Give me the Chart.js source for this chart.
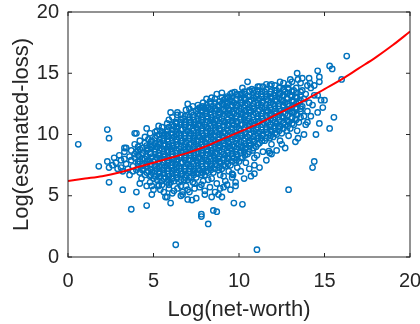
<!DOCTYPE html>
<html>
<head>
<meta charset="utf-8">
<script src="https://cdn.jsdelivr.net/npm/chart.js@4.4.1/dist/chart.umd.min.js"></script>
<style>
  html, body { margin: 0; padding: 0; background: #fff; }
  #wrap { width: 420px; height: 324px; }
</style>
</head>
<body>
<div id="wrap"><canvas id="scatterChart"></canvas></div>
<script>
// Axis ticks
const xTicks = [0, 5, 10, 15, 20];
const yTicks = [0, 5, 10, 15, 20];

// Fitted curve (red)
const fitX = [0, 1, 2, 3, 4, 5, 6, 7, 8, 9, 10, 11, 12, 13, 14, 15, 16, 17, 18, 19, 20];
const fitY = [6.2, 6.4, 6.6, 6.9, 7.3, 7.7, 8.1, 8.5, 9.0, 9.6, 10.2, 10.8, 11.5, 12.2, 12.9, 13.7, 14.5, 15.4, 16.3, 17.3, 18.4];

// Dense core of the cloud [net-worth, estimated-loss]
const coreCloud = [
  [3.4,7.6],[3.6,8.2],[3.5,7.2],[3.7,8.7],[3.3,8.0],[3.8,7.4],[3.7,7.9],[3.9,8.4],[3.8,7.0],
  [4.0,7.1],[4.1,7.6],[3.9,8.1],[4.0,8.6],[4.1,9.0],[4.2,6.9],[4.3,7.4],[4.2,7.8],[4.3,8.3],[4.2,8.8],
  [4.5,6.7],[4.4,7.2],[4.6,7.6],[4.5,8.0],[4.4,8.5],[4.6,8.9],[4.5,9.3],
  [4.8,6.6],[4.7,7.0],[4.8,7.5],[4.7,7.9],[4.8,8.4],[4.7,8.8],[4.8,9.2],[4.7,9.6],
  [5.0,6.4],[4.9,6.9],[5.1,7.3],[5.0,7.8],[4.9,8.2],[5.1,8.6],[5.0,9.1],[4.9,9.5],
  [5.2,6.3],[5.3,6.8],[5.2,7.2],[5.3,7.7],[5.2,8.1],[5.3,8.5],[5.2,9.0],[5.3,9.4],[5.2,9.9],
  [5.5,6.2],[5.4,6.6],[5.6,7.1],[5.5,7.5],[5.4,8.0],[5.6,8.4],[5.5,8.8],[5.4,9.3],[5.6,9.7],[5.5,10.1],
  [5.8,6.1],[5.7,6.5],[5.8,7.0],[5.7,7.4],[5.8,7.9],[5.7,8.3],[5.8,8.7],[5.7,9.2],[5.8,9.6],[5.7,10.0],[5.8,10.4],
  [6.0,6.1],[5.9,6.6],[6.1,7.0],[6.0,7.5],[5.9,7.9],[6.1,8.4],[6.0,8.8],[5.9,9.2],[6.1,9.7],[6.0,10.1],[5.9,10.6],
  [6.2,6.2],[6.3,6.7],[6.2,7.1],[6.3,7.6],[6.2,8.0],[6.3,8.5],[6.2,8.9],[6.3,9.4],[6.2,9.8],[6.3,10.3],[6.2,10.7],[6.3,11.0],
  [6.5,6.1],[6.4,6.5],[6.6,7.0],[6.5,7.4],[6.4,7.9],[6.6,8.3],[6.5,8.8],[6.4,9.2],[6.6,9.7],[6.5,10.1],[6.4,10.6],[6.6,11.0],
  [6.8,6.3],[6.7,6.8],[6.8,7.2],[6.7,7.7],[6.8,8.1],[6.7,8.6],[6.8,9.0],[6.7,9.5],[6.8,9.9],[6.7,10.4],[6.8,10.8],[6.7,11.3],
  [7.0,6.3],[6.9,6.7],[7.1,7.2],[7.0,7.6],[6.9,8.1],[7.1,8.5],[7.0,9.0],[6.9,9.4],[7.1,9.9],[7.0,10.3],[6.9,10.8],[7.1,11.2],[7.0,11.6],
  [7.2,6.5],[7.3,6.9],[7.2,7.4],[7.3,7.8],[7.2,8.3],[7.3,8.7],[7.2,9.2],[7.3,9.6],[7.2,10.1],[7.3,10.5],[7.2,11.0],[7.3,11.4],[7.2,11.8],
  [7.5,6.5],[7.4,7.0],[7.6,7.4],[7.5,7.9],[7.4,8.3],[7.6,8.8],[7.5,9.2],[7.4,9.7],[7.6,10.1],[7.5,10.6],[7.4,11.0],[7.6,11.5],[7.5,11.9],
  [7.8,6.7],[7.7,7.1],[7.8,7.6],[7.7,8.0],[7.8,8.5],[7.7,8.9],[7.8,9.4],[7.7,9.8],[7.8,10.3],[7.7,10.7],[7.8,11.2],[7.7,11.6],[7.8,12.0],
  [8.0,6.7],[7.9,7.2],[8.1,7.6],[8.0,8.1],[7.9,8.5],[8.1,9.0],[8.0,9.4],[7.9,9.9],[8.1,10.3],[8.0,10.8],[7.9,11.2],[8.1,11.7],[8.0,12.1],
  [8.2,6.9],[8.3,7.3],[8.2,7.8],[8.3,8.2],[8.2,8.7],[8.3,9.1],[8.2,9.6],[8.3,10.0],[8.2,10.5],[8.3,10.9],[8.2,11.4],[8.3,11.8],[8.2,12.2],
  [8.5,6.9],[8.4,7.4],[8.6,7.8],[8.5,8.3],[8.4,8.7],[8.6,9.2],[8.5,9.6],[8.4,10.1],[8.6,10.5],[8.5,11.0],[8.4,11.4],[8.6,11.9],[8.5,12.3],
  [8.8,7.1],[8.7,7.5],[8.8,8.0],[8.7,8.4],[8.8,8.9],[8.7,9.3],[8.8,9.8],[8.7,10.2],[8.8,10.7],[8.7,11.1],[8.8,11.6],[8.7,12.0],[8.8,12.4],
  [9.0,7.2],[8.9,7.7],[9.1,8.1],[9.0,8.6],[8.9,9.0],[9.1,9.5],[9.0,9.9],[8.9,10.4],[9.1,10.8],[9.0,11.3],[8.9,11.7],[9.1,12.1],[9.0,12.5],
  [9.2,7.4],[9.3,7.8],[9.2,8.3],[9.3,8.7],[9.2,9.2],[9.3,9.6],[9.2,10.1],[9.3,10.5],[9.2,11.0],[9.3,11.4],[9.2,11.9],[9.3,12.3],[9.2,12.6],
  [9.5,7.5],[9.4,8.0],[9.6,8.4],[9.5,8.9],[9.4,9.3],[9.6,9.8],[9.5,10.2],[9.4,10.7],[9.6,11.1],[9.5,11.6],[9.4,12.0],[9.6,12.4],[9.5,12.8],
  [9.8,7.7],[9.7,8.1],[9.8,8.6],[9.7,9.0],[9.8,9.5],[9.7,9.9],[9.8,10.4],[9.7,10.8],[9.8,11.3],[9.7,11.7],[9.8,12.2],[9.7,12.6],
  [10.0,7.8],[9.9,8.3],[10.1,8.7],[10.0,9.2],[9.9,9.6],[10.1,10.1],[10.0,10.5],[9.9,11.0],[10.1,11.4],[10.0,11.9],[9.9,12.3],[10.1,12.8],
  [10.2,8.1],[10.3,8.6],[10.2,9.0],[10.3,9.5],[10.2,9.9],[10.3,10.4],[10.2,10.8],[10.3,11.3],[10.2,11.7],[10.3,12.2],[10.2,12.6],[10.3,13.0],
  [10.5,8.4],[10.4,8.9],[10.6,9.3],[10.5,9.8],[10.4,10.2],[10.6,10.7],[10.5,11.1],[10.4,11.6],[10.6,12.0],[10.5,12.5],[10.4,12.9],
  [10.8,8.7],[10.7,9.2],[10.8,9.6],[10.7,10.1],[10.8,10.5],[10.7,11.0],[10.8,11.4],[10.7,11.9],[10.8,12.3],[10.7,12.8],[10.8,13.2],
  [11.0,9.0],[10.9,9.5],[11.1,9.9],[11.0,10.4],[10.9,10.8],[11.1,11.3],[11.0,11.7],[10.9,12.2],[11.1,12.6],[11.0,13.1],
  [11.2,9.3],[11.3,9.7],[11.2,10.2],[11.3,10.6],[11.2,11.1],[11.3,11.5],[11.2,12.0],[11.3,12.4],[11.2,12.9],[11.3,13.3],
  [11.5,9.5],[11.4,10.0],[11.6,10.4],[11.5,10.9],[11.4,11.3],[11.6,11.8],[11.5,12.2],[11.4,12.7],[11.6,13.1],[11.5,13.5],
  [11.8,9.7],[11.7,10.1],[11.8,10.6],[11.7,11.0],[11.8,11.5],[11.7,11.9],[11.8,12.4],[11.7,12.8],[11.8,13.3],
  [12.0,9.8],[11.9,10.3],[12.1,10.7],[12.0,11.2],[11.9,11.6],[12.1,12.1],[12.0,12.5],[11.9,13.0],[12.1,13.4],
  [12.2,10.0],[12.3,10.5],[12.2,10.9],[12.3,11.4],[12.2,11.8],[12.3,12.3],[12.2,12.7],[12.3,13.2],[12.2,13.6],
  [12.5,10.1],[12.4,10.6],[12.6,11.0],[12.5,11.5],[12.4,11.9],[12.6,12.4],[12.5,12.8],[12.4,13.3],[12.6,13.7],
  [12.8,10.3],[12.7,10.8],[12.8,11.2],[12.7,11.7],[12.8,12.1],[12.7,12.6],[12.8,13.0],[12.7,13.5],
  [13.0,10.5],[12.9,11.0],[13.1,11.4],[13.0,11.9],[12.9,12.3],[13.1,12.8],[13.0,13.2],[12.9,13.7],
  [13.2,10.8],[13.3,11.3],[13.2,11.8],[13.3,12.2],[13.2,12.7],[13.3,13.1],[13.2,13.6],
  [13.5,11.0],[13.4,11.6],[13.6,12.1],[13.5,12.6],[13.4,13.0],[13.6,13.5],
  [13.8,11.5],[13.7,12.3],[13.8,12.9],[13.7,13.6],[14.0,11.9],[14.1,12.6],[13.9,13.3],[14.0,14.0],
  [14.3,12.4],[14.4,13.2],[14.2,13.8]
];

// Second, interleaved layer of the core, one column per entry: [net-worth, [estimated-loss values]]
const coreColumns = [
  [4.1, [7.3,7.8,8.3,8.7]],
  [4.35, [7.1,7.6,8.0,8.5,8.9]],
  [4.6, [6.9,7.4,7.8,8.2,8.7,9.1]],
  [4.85, [6.7,7.2,7.6,8.1,8.5,9.0,9.4]],
  [5.1, [6.6,7.0,7.5,7.9,8.4,8.8,9.3,9.7]],
  [5.35, [6.5,6.9,7.4,7.8,8.3,8.7,9.2,9.6,10.0]],
  [5.6, [6.4,6.8,7.3,7.7,8.2,8.6,9.1,9.5,9.9]],
  [5.85, [6.3,6.8,7.2,7.7,8.1,8.6,9.0,9.4,9.9,10.3]],
  [6.1, [6.4,6.8,7.3,7.7,8.2,8.6,9.1,9.5,10.0,10.4,10.8]],
  [6.35, [6.4,6.9,7.3,7.8,8.2,8.7,9.1,9.6,10.0,10.5,10.9]],
  [6.6, [6.3,6.8,7.2,7.7,8.1,8.6,9.0,9.5,9.9,10.4,10.8,11.2]],
  [6.85, [6.5,7.0,7.4,7.9,8.3,8.8,9.2,9.7,10.1,10.6,11.0,11.5]],
  [7.1, [6.5,7.0,7.4,7.9,8.3,8.8,9.2,9.7,10.1,10.6,11.0,11.4]],
  [7.35, [6.7,7.2,7.6,8.1,8.5,9.0,9.4,9.9,10.3,10.8,11.2,11.6]],
  [7.6, [6.8,7.2,7.7,8.1,8.6,9.0,9.5,9.9,10.4,10.8,11.3,11.7,12.1]],
  [7.85, [6.9,7.4,7.8,8.3,8.7,9.2,9.6,10.1,10.5,11.0,11.4,11.9,12.3]],
  [8.1, [7.0,7.4,7.9,8.3,8.8,9.2,9.7,10.1,10.6,11.0,11.5,11.9,12.4]],
  [8.35, [7.1,7.6,8.0,8.5,8.9,9.4,9.8,10.3,10.7,11.2,11.6,12.1,12.5]],
  [8.6, [7.2,7.6,8.1,8.5,9.0,9.4,9.9,10.3,10.8,11.2,11.7,12.1,12.6]],
  [8.85, [7.3,7.8,8.2,8.7,9.1,9.6,10.0,10.5,10.9,11.4,11.8,12.3,12.7]],
  [9.1, [7.5,7.9,8.4,8.8,9.3,9.7,10.2,10.6,11.1,11.5,12.0,12.4,12.8]],
  [9.35, [7.6,8.1,8.5,9.0,9.4,9.9,10.3,10.8,11.2,11.7,12.1,12.6,13.0]],
  [9.6, [7.8,8.2,8.7,9.1,9.6,10.0,10.5,10.9,11.4,11.8,12.3,12.7,13.1]],
  [9.85, [7.9,8.4,8.8,9.3,9.7,10.2,10.6,11.1,11.5,12.0,12.4,12.9,13.2]],
  [10.1, [8.1,8.5,9.0,9.4,9.9,10.3,10.8,11.2,11.7,12.1,12.6,13.0,13.3]],
  [10.35, [8.3,8.8,9.2,9.7,10.1,10.6,11.0,11.5,11.9,12.4,12.8,13.3]],
  [10.6, [8.6,9.1,9.5,10.0,10.4,10.9,11.3,11.8,12.2,12.7,13.1,13.5]],
  [10.85, [8.9,9.4,9.8,10.3,10.7,11.2,11.6,12.1,12.5,13.0,13.4]],
  [11.1, [9.2,9.7,10.1,10.6,11.0,11.5,11.9,12.4,12.8,13.3,13.6]],
  [11.35, [9.5,9.9,10.4,10.8,11.3,11.7,12.2,12.6,13.1,13.5]],
  [11.6, [9.7,10.2,10.6,11.1,11.5,12.0,12.4,12.9,13.3,13.7]],
  [11.85, [9.9,10.4,10.8,11.3,11.7,12.2,12.6,13.1,13.5]],
  [12.1, [10.1,10.5,11.0,11.4,11.9,12.3,12.8,13.2,13.6]],
  [12.35, [10.3,10.7,11.2,11.6,12.1,12.5,13.0,13.4,13.8]],
  [12.6, [10.5,10.9,11.4,11.8,12.3,12.7,13.2,13.6]],
  [12.85, [10.7,11.1,11.6,12.0,12.5,12.9,13.4,13.8]],
  [13.1, [10.9,11.3,11.8,12.2,12.7,13.1,13.5]],
  [13.35, [11.2,11.6,12.1,12.5,13.0,13.4,13.8]],
  [13.6, [11.4,11.9,12.3,12.8,13.2]]
];

// Looser points around the edges of the core
const fringe = [
  [5.2,10.3],[5.8,10.9],[6.4,11.6],[7.1,12.1],[7.9,12.6],[8.6,12.9],[9.3,13.1],[9.9,13.3],[10.6,13.6],
  [11.4,13.9],[12.1,14.0],[12.9,14.1],[13.6,14.2],[6.1,11.4],[7.6,12.4],[9.0,13.0],[10.9,13.6],[12.6,14.2],
  [4.5,9.8],[4.2,9.5],[3.9,9.2],[5.5,10.6],[8.3,12.7],[11.8,14.0],
  [4.3,6.4],[4.8,6.1],[5.3,5.8],[5.9,5.6],[6.4,5.6],[6.9,5.8],[7.4,6.0],[7.9,6.2],[8.4,6.4],[8.9,6.7],
  [9.4,7.0],[9.9,7.3],[10.4,7.7],[10.9,8.1],[11.4,8.6],[11.9,9.2],[12.4,9.5],[12.9,9.9],[13.4,10.3],[13.9,10.8],
  [4.6,5.8],[5.6,5.3],[6.7,5.3],[7.7,5.7],[8.7,6.0],[9.6,6.5],[10.6,7.2],[3.6,6.7],[3.1,7.3],[3.4,8.9],
  [2.6,7.5],[2.9,7.2],[3.1,7.9],[2.7,8.1],[3.0,8.3],[3.2,7.0],
  [6.9,12.0],[8.1,12.9],[9.5,13.3],[10.3,13.5],[11.6,14.1],[13.1,14.3],[7.3,6.1],[8.2,6.3],[9.1,6.6],[10.1,7.0]
];

// More scattered points below and above the band
const looseEdge = [
  [5.9,5.9],[6.2,5.4],[6.6,5.8],[7.0,5.5],[7.4,5.6],[7.8,5.9],[8.3,5.7],[8.6,5.3],[8.9,5.6],[9.3,5.9],
  [9.6,6.8],[10.3,6.4],[10.7,6.6],[11.2,7.3],[11.6,7.9],[12.2,8.7],[12.7,8.9],[13.3,9.4],[13.8,10.0],
  [4.2,6.0],[4.9,5.8],[5.5,5.9],[6.1,5.2],[8.0,5.4],[8.8,5.1],
  [4.8,10.1],[5.3,10.7],[5.9,11.2],[6.6,11.6],[7.3,12.3],[6.0,11.8],[7.0,12.5],[8.4,13.0],[9.0,13.4],[9.2,12.9],
  [12.4,14.3],[13.0,14.5],[13.7,14.6],[14.4,14.0],[14.6,13.2],[14.8,12.8],[14.2,11.5],[14.6,11.8],[14.0,11.0]
];

// Isolated points
const outliers = [
  [0.6,9.2],[2.3,10.4],[2.4,9.7],[3.9,10.1],[1.8,7.4],[2.4,6.1],[3.2,5.5],[3.7,3.9],[4.6,4.2],[4.0,5.3],
  [2.3,7.8],[2.4,7.3],[2.8,7.7],[3.3,8.9],[3.3,8.6],[4.0,10.1],[4.6,10.5],[5.1,10.2],[5.4,10.3],[6.4,11.8],
  [6.3,10.9],[4.9,5.1],[5.7,4.9],[6.6,5.0],[5.0,5.5],[5.4,5.5],[6.3,1.0],[11.05,0.6],[12.9,5.5],[7.8,3.5],
  [7.8,3.3],[8.2,2.7],[8.5,3.8],[8.7,3.7],[9.7,4.4],[10.2,4.3],[7.0,4.7],[7.25,4.65],[6.0,4.4],[11.05,8.3],
  [11.75,8.65],[11.9,8.4],[10.9,7.5],[10.9,6.8],[9.65,6.7],[9.8,6.1],[9.8,5.8],[9.5,5.5],[9.2,6.2],[9.1,5.7],
  [9.0,4.9],[8.4,4.9],[8.0,5.1],[7.5,4.8],[7.1,5.3],[6.7,5.1],[5.8,4.9],[5.3,5.9],[16.3,16.4],[15.3,15.6],
  [15.45,15.35],[16.0,14.5],[14.6,15.2],[14.7,14.7],[14.7,14.3],[13.4,15.0],[13.45,14.5],[14.1,14.6],[14.15,14.2],
  [15.55,11.4],[15.3,10.5],[14.7,10.9],[14.5,10.0],[13.45,9.7],[14.3,7.3],[14.4,7.8],[12.5,9.2],[11.8,8.5],
  [14.9,12.2],[15.0,12.8],[11.1,13.9],[10.5,14.3],[11.9,14.1],[10.2,13.8],[11.2,13.9],[10.75,13.7],[8.7,13.3],
  [9.6,13.4],[9.75,13.45],[10.2,13.3],[7.9,12.2],[7.7,12.2],[8.1,12.2]
];

const columnPoints = [];
coreColumns.forEach(c => c[1].forEach(y => columnPoints.push([c[0], y])));
const scatterPoints = coreCloud.concat(columnPoints, fringe, looseEdge, outliers).map(p => ({ x: p[0], y: p[1] }));
const fitPoints = fitX.map((x, i) => ({ x: x, y: fitY[i] }));

const axisColor = '#262626';
const font = 'Liberation Sans, Arial, sans-serif';

// box and inward tick marks, MATLAB style
const boxPlugin = {
  id: 'box',
  afterDraw(chart) {
    const { ctx, chartArea: a, scales } = chart;
    ctx.save();
    ctx.strokeStyle = axisColor;
    ctx.lineWidth = 1;
    ctx.strokeRect(a.left, a.top, a.right - a.left, a.bottom - a.top);
    ctx.beginPath();
    xTicks.forEach(v => {
      const px = scales.x.getPixelForValue(v);
      ctx.moveTo(px, a.bottom); ctx.lineTo(px, a.bottom - 4);
      ctx.moveTo(px, a.top); ctx.lineTo(px, a.top + 4);
    });
    yTicks.forEach(v => {
      const py = scales.y.getPixelForValue(v);
      ctx.moveTo(a.left, py); ctx.lineTo(a.left + 4, py);
      ctx.moveTo(a.right, py); ctx.lineTo(a.right - 4, py);
    });
    ctx.stroke();
    ctx.restore();
  }
};

new Chart(document.getElementById('scatterChart'), {
  type: 'scatter',
  data: {
    datasets: [
      {
        type: 'line',
        data: fitPoints,
        borderColor: '#ff0000',
        borderWidth: 2,
        pointRadius: 0,
        fill: false,
        cubicInterpolationMode: 'monotone'
      },
      {
        data: scatterPoints,
        borderColor: '#0072bd',
        backgroundColor: 'rgba(0,0,0,0)',
        borderWidth: 1.4,
        pointRadius: 2.7
      }
    ]
  },
  options: {
    responsive: true,
    maintainAspectRatio: false,
    animation: false,
    devicePixelRatio: 1,
    layout: { padding: { top: 12, right: 10, left: 0, bottom: 0 } },
    plugins: { legend: { display: false }, tooltip: { enabled: false } },
    scales: {
      x: {
        type: 'linear', min: 0, max: 20,
        afterBuildTicks: s => { s.ticks = xTicks.map(v => ({ value: v })); },
        afterFit: s => { s.height = 67; s.paddingLeft = 0; s.paddingRight = 0; },
        grid: { display: false, drawTicks: false },
        border: { display: false },
        ticks: { color: axisColor, padding: 12, maxRotation: 0, font: { family: font, size: 20 } },
        title: { display: true, text: 'Log(net-worth)', color: axisColor, padding: { top: 0, bottom: 1 },
                 font: { family: font, size: 22 } }
      },
      y: {
        type: 'linear', min: 0, max: 20,
        afterBuildTicks: s => { s.ticks = yTicks.map(v => ({ value: v })); },
        afterFit: s => { s.width = 68; s.paddingTop = 0; s.paddingBottom = 0; },
        grid: { display: false, drawTicks: false },
        border: { display: false },
        ticks: { color: axisColor, padding: 9, font: { family: font, size: 20 } },
        title: { display: true, text: 'Log(estimated-loss)', color: axisColor, padding: { top: 9, bottom: 0 },
                 font: { family: font, size: 22 } }
      }
    }
  },
  plugins: [boxPlugin]
});
</script>
</body>
</html>
